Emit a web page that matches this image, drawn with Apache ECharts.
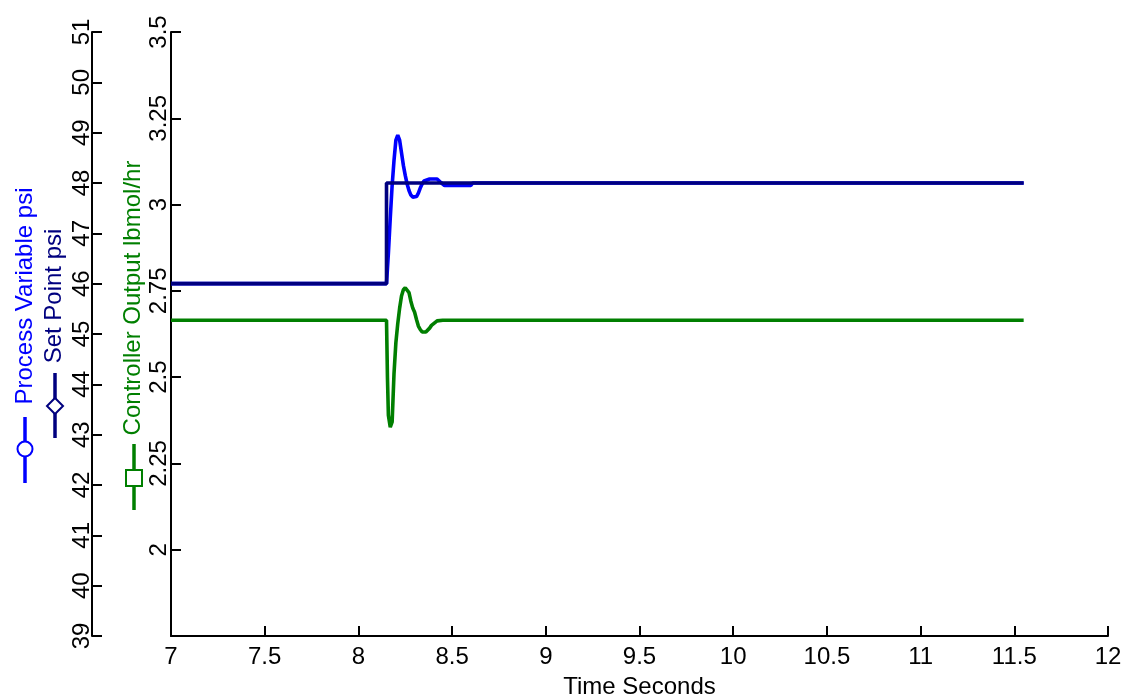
<!DOCTYPE html>
<html>
<head>
<meta charset="utf-8">
<script src="https://cdn.jsdelivr.net/npm/echarts@6/dist/echarts.min.js"></script>
<style>
html,body{margin:0;padding:0;background:#fff;}
#chart{width:1123px;height:697px;}
</style>
</head>
<body>
<div id="chart"></div>
<script>
// ---- Data ----
const xTicks = [7, 7.5, 8, 8.5, 9, 9.5, 10, 10.5, 11, 11.5, 12];
const psiTicks = [39, 40, 41, 42, 43, 44, 45, 46, 47, 48, 49, 50, 51];
const flowTicks = [2, 2.25, 2.5, 2.75, 3, 3.25, 3.5];

const pvTime = [7, 8.15, 8.16, 8.17, 8.18, 8.19, 8.20, 8.21, 8.22, 8.23, 8.24, 8.25, 8.26, 8.27, 8.28, 8.29, 8.30, 8.31, 8.32, 8.33, 8.34, 8.35, 8.36, 8.38, 8.42, 8.44, 8.46, 8.50, 8.60, 8.61, 11.55];
const pvValue = [46, 46, 46.6, 47.3, 47.95, 48.45, 48.85, 48.95, 48.85, 48.6, 48.35, 48.15, 47.98, 47.85, 47.76, 47.72, 47.71, 47.73, 47.8, 47.9, 47.98, 48.04, 48.07, 48.08, 48.08, 48.01, 47.95, 47.95, 47.95, 48.0, 48.0];

const spTime = [7, 8.15, 8.15, 11.55];
const spValue = [46, 46, 48, 48];

const coTime = [7, 8.15, 8.155, 8.16, 8.17, 8.175, 8.18, 8.19, 8.20, 8.21, 8.22, 8.23, 8.24, 8.25, 8.26, 8.27, 8.28, 8.29, 8.30, 8.31, 8.32, 8.33, 8.34, 8.35, 8.36, 8.37, 8.38, 8.39, 8.40, 8.42, 8.45, 11.55];
const coValue = [2.665, 2.665, 2.50, 2.39, 2.355, 2.353, 2.37, 2.51, 2.60, 2.655, 2.70, 2.735, 2.753, 2.759, 2.758, 2.745, 2.72, 2.70, 2.688, 2.667, 2.648, 2.638, 2.631, 2.629, 2.631, 2.635, 2.642, 2.65, 2.655, 2.663, 2.665, 2.665];

const pairs = (t, v) => t.map((x, i) => [x, v[i]]);

const FONT = 'Liberation Sans, Arial, Helvetica, sans-serif';
const FS = 24;
const BLUE = '#0000ff', NAVY = '#00007f', GREEN = '#007f00';

const chart = echarts.init(document.getElementById('chart'), null, {renderer: 'canvas'});

const axisCommon = {
  axisLine: {show: true, lineStyle: {color: '#000', width: 2}},
  axisTick: {show: true, inside: true, length: 10, lineStyle: {color: '#000', width: 2}},
  splitLine: {show: false}
};

const option = {
  animation: false,
  backgroundColor: '#fff',
  grid: {left: 171, right: 15, top: 32, bottom: 61, containLabel: false, outerBoundsMode: 'none'},
  xAxis: Object.assign({
    type: 'value', min: 7, max: 12, interval: 0.5,
    name: 'Time Seconds', nameLocation: 'middle', nameGap: 39,
    nameTextStyle: {color: '#000', fontSize: FS, fontFamily: FONT},
    axisLabel: {color: '#000', fontSize: FS, fontFamily: FONT, margin: 9,
      formatter: v => xTicks.includes(+v.toFixed(2)) ? String(v) : ''}
  }, axisCommon),
  yAxis: [
    Object.assign({
      type: 'value', position: 'left', offset: 0, min: 1.75, max: 3.5, interval: 0.25,
      axisLabel: {color: '#000', fontSize: FS, fontFamily: FONT, rotate: 90, margin: 0,
        formatter: v => flowTicks.includes(+v.toFixed(2)) ? String(v) : ''}
    }, axisCommon),
    Object.assign({
      type: 'value', position: 'left', offset: 79, min: 39, max: 51, interval: 1,
      axisLabel: {color: '#000', fontSize: FS, fontFamily: FONT, rotate: 90, margin: -2,
        formatter: v => psiTicks.includes(v) ? String(v) : ''}
    }, axisCommon)
  ],
  series: [
    {name: 'Process Variable psi', type: 'line', yAxisIndex: 1, data: pairs(pvTime, pvValue),
      showSymbol: false, smooth: false, lineStyle: {color: BLUE, width: 3.6}, z: 2},
    {name: 'Set Point psi', type: 'line', yAxisIndex: 1, data: pairs(spTime, spValue),
      showSymbol: false, lineStyle: {color: NAVY, width: 3.6}, z: 3},
    {name: 'Controller Output lbmol/hr', type: 'line', yAxisIndex: 0, data: pairs(coTime, coValue),
      showSymbol: false, lineStyle: {color: GREEN, width: 3.6}, z: 2}
  ],
  graphic: [
    // Process Variable label + symbol
    {type: 'text', x: 25, y: 296, rotation: Math.PI / 2,
      style: {text: 'Process Variable psi', fill: BLUE, fontSize: FS, fontFamily: FONT, align: 'center', verticalAlign: 'middle'}},
    {type: 'line', shape: {x1: 25, y1: 417, x2: 25, y2: 483}, style: {stroke: BLUE, lineWidth: 3.5}},
    {type: 'circle', shape: {cx: 25, cy: 449, r: 7.5}, style: {fill: '#fff', stroke: BLUE, lineWidth: 2}},
    // Set Point label + symbol
    {type: 'text', x: 54, y: 296, rotation: Math.PI / 2,
      style: {text: 'Set Point psi', fill: NAVY, fontSize: FS, fontFamily: FONT, align: 'center', verticalAlign: 'middle'}},
    {type: 'line', shape: {x1: 55, y1: 373, x2: 55, y2: 438}, style: {stroke: NAVY, lineWidth: 3.5}},
    {type: 'polygon', shape: {points: [[55, 398], [63, 406], [55, 414], [47, 406]]}, style: {fill: '#fff', stroke: NAVY, lineWidth: 2}},
    // Controller Output label + symbol
    {type: 'text', x: 133, y: 298, rotation: Math.PI / 2,
      style: {text: 'Controller Output lbmol/hr', fill: GREEN, fontSize: FS, fontFamily: FONT, align: 'center', verticalAlign: 'middle'}},
    {type: 'line', shape: {x1: 134, y1: 444, x2: 134, y2: 510}, style: {stroke: GREEN, lineWidth: 3.5}},
    {type: 'rect', shape: {x: 126, y: 470, width: 16, height: 16}, style: {fill: '#fff', stroke: GREEN, lineWidth: 2}}
  ]
};
chart.setOption(option);
</script>
</body>
</html>
